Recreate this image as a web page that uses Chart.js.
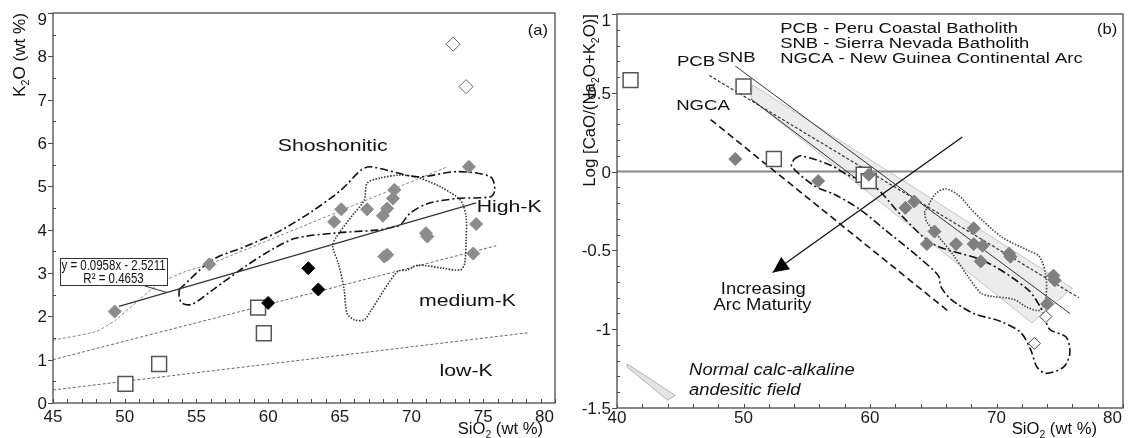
<!DOCTYPE html>
<html lang="en">
<head>
    <meta charset="UTF-8">
    <title>K2O and Log[CaO/(Na2O+K2O)] vs SiO2</title>
    <style>
        body {
            margin: 0;
            background-color: #fff;
        }
        .wrap {
            position: relative;
            width: 1135px;
            height: 438px;
        }
        #chartA {
            position: absolute;
            left: 0;
            top: 0;
        }
        #chartB {
            position: absolute;
            left: 567px;
            top: 0;
        }
    </style>
</head>
<body>
    <div class="wrap">
        <canvas id="chartA" width="567" height="438"></canvas>
        <canvas id="chartB" width="568" height="438"></canvas>
    </div>

    <script src="https://cdn.jsdelivr.net/npm/chart.js"></script>

    <script>
        // ---- panel (a): K2O vs SiO2 ----
        const grayDiamondsA = [[49.3,2.11],[55.9,3.2],[64.6,4.18],[65.1,4.47],[66.9,4.47],[68.0,4.32],[68.3,4.49],[68.7,4.72],
                               [68.8,4.92],[74.0,5.45],[74.5,4.13],[71.0,3.92],[71.1,3.84],[68.3,3.42],[68.1,3.38],[74.3,3.45]];
        const blackDiamondsA = [[60.0,2.31],[62.8,3.11],[63.5,2.62]];
        const openDiamondsA = [[72.9,8.28],[73.8,7.3]];
        const openSquaresA = [[50.05,0.44],[52.4,0.9],[59.3,2.2],[59.7,1.61]];
        const lowMediumK = [[45,0.3],[78.1,1.62]];
        const mediumHighK = [[45,1.0],[75.9,3.63]];
        const highKShosh = [[45,1.45],[48,1.65],[49.3,1.9],[51.0,2.38],[52.4,2.76],[54.2,3.03],[55.9,3.2],[72.5,5.45]];
        const regressionA = [[49.6,2.23],[74.5,4.62]];
        const leaderA = [[51.4,2.70],[52.95,2.55]];
        const dashDotA = [[53.8,2.62],[56.1,3.30],[58.4,3.61],[60.7,3.95],[63.0,4.41],[65.1,4.92],[66.5,5.38],[67.2,5.45],
                          [70.4,5.22],[73.2,5.34],[75.5,5.22],[75.8,4.92],[75.5,4.76],[73.2,4.72],[71.1,4.60],[69.9,4.38],
                          [69.2,4.11],[68.3,4.03],[67.6,3.99],[64.6,3.92],[61.9,3.8],[60.2,3.53],[58.4,3.15],[56.1,2.6],
                          [54.7,2.28],[54.0,2.3],[53.8,2.45],[53.8,2.62]];
        const dottedA = [[70.4,5.22],[72.0,4.99],[73.4,4.68],[73.8,4.3],[73.8,3.76],[73.7,3.22],[73.4,3.07],[72.2,3.11],
                         [70.4,3.18],[69.7,3.07],[69.0,3.03],[67.2,2.15],[66.7,1.92],[66.0,1.92],[65.5,2.07],[65.3,2.61],
                         [64.9,3.22],[64.5,3.61],[64.7,3.8],[65.8,4.3],[66.7,4.68],[66.9,5.07],[67.8,5.19],[69.2,5.26],[70.4,5.22]];
        const eqBoxA = [[45.5,3.35],[52.95,2.72]];

        // ---- panel (b): Log[CaO/(Na2O+K2O)] vs SiO2 ----
        const grayDiamondsB = [[49.35,0.08],[55.9,-0.06],[59.9,-0.02],[63.5,-0.19],[62.8,-0.23],[65.1,-0.38],[64.5,-0.46],
                               [66.8,-0.46],[68.2,-0.36],[68.2,-0.46],[68.9,-0.47],[68.75,-0.57],[71.0,-0.52],[71.1,-0.54],
                               [74.5,-0.66],[74.6,-0.69],[74.0,-0.84]];
        const openSquaresB = [[41.07,0.58],[50.0,0.54],[52.4,0.08],[59.5,-0.02],[59.9,-0.06]];
        const openDiamondsB = [[73.9,-0.92],[73.0,-1.09]];
        const pcbLine = [[47.3,0.61],[76.5,-0.80]];
        const snbLine = [[49.35,0.67],[75.8,-0.90]];
        const ngcaLine = [[47.4,0.33],[66.1,-0.88]];
        const fieldEdgeB = [[50.6,0.46],[59.5,-0.08]];
        const andesiteField = [[50.7,0.55],[76.0,-0.74],[72.8,-0.96],[50.6,0.46],[50.7,0.55]];
        const legendWedge = [[40.8,-1.22],[44.6,-1.42],[44.0,-1.45],[40.8,-1.24],[40.8,-1.22]];
        const zeroLine = [[40,0],[80,0]];
        const maturityArrow = [[67.3,0.22],[52.3,-0.64]];
        const dashDotB = [[54.0,0.08],[54.55,0.10],[56.9,0.04],[58.2,-0.02],[60.3,-0.09],[62.5,-0.28],[65.0,-0.46],
                          [69.1,-0.57],[72.5,-0.75],[73.6,-0.88],[74.2,-1.0],[75.5,-1.05],[75.8,-1.15],[75.3,-1.24],
                          [73.9,-1.28],[73.2,-1.24],[72.7,-1.13],[71.9,-1.02],[70.3,-0.95],[68.2,-0.90],[66.4,-0.81],
                          [65.6,-0.73],[65.4,-0.66],[63.8,-0.54],[61.2,-0.37],[59.2,-0.24],[57.2,-0.145],[55.6,-0.09],
                          [53.8,0.035],[54.0,0.08]];
        const dottedB = [[64.3,-0.26],[65.2,-0.14],[66.0,-0.11],[67.0,-0.15],[68.0,-0.24],[68.75,-0.30],[70.5,-0.42],
                         [72.5,-0.50],[73.4,-0.54],[73.9,-0.66],[73.9,-0.80],[73.4,-0.88],[72.4,-0.86],[71.35,-0.81],
                         [69.5,-0.79],[68.75,-0.77],[67.7,-0.66],[66.5,-0.52],[65.4,-0.41],[64.5,-0.32],[64.3,-0.26]];

        const FONT = '"Liberation Sans", Arial, sans-serif';

        function pts(arr) {
            return arr.map(p => ({ x: p[0], y: p[1] }));
        }

        function isMajor(v, step) {
            const r = v / step;
            return Math.abs(r - Math.round(r)) < 1e-6;
        }

        function fmt(v) {
            const r = Math.round(v * 10) / 10;
            return String(r === 0 ? 0 : r);
        }

        // draws text made of [string, isSubscript] parts
        function drawRich(ctx, parts, x, y, o) {
            const size = o.size, sx = o.sx || 1;
            const fontFor = sub => (o.italic ? 'italic ' : '') + (sub ? Math.round(size * 0.65) : size) + 'px ' + FONT;
            ctx.save();
            ctx.translate(x, y);
            if (o.rotate) ctx.rotate(o.rotate);
            ctx.scale(sx, 1);
            let total = 0;
            parts.forEach(p => { ctx.font = fontFor(p[1]); total += ctx.measureText(p[0]).width; });
            let cx = o.align === 'left' ? 0 : o.align === 'right' ? -total : -total / 2;
            ctx.textAlign = 'left';
            ctx.textBaseline = 'middle';
            ctx.fillStyle = o.color || '#111';
            parts.forEach(p => {
                ctx.font = fontFor(p[1]);
                ctx.fillText(p[0], cx, p[1] ? size * 0.3 : 0);
                cx += ctx.measureText(p[0]).width;
            });
            ctx.restore();
        }

        function lineSet(data, color, width, dash, extra) {
            return Object.assign({
                data: pts(data), showLine: true, borderColor: color, borderWidth: width,
                borderDash: dash || [], pointRadius: 0, fill: false, tension: 0
            }, extra || {});
        }

        function markSet(data, style, radius, fillColor, border, bw) {
            return {
                data: pts(data), showLine: false, pointStyle: style, pointRadius: radius,
                backgroundColor: fillColor, borderColor: border, borderWidth: bw,
                pointBackgroundColor: fillColor, pointBorderColor: border, pointBorderWidth: bw
            };
        }

        // frame, ticks, tick labels, axis titles and notes
        function decor(cfg) {
            return {
                id: 'decor',
                afterDatasetsDraw(chart) {
                    const { ctx, chartArea: a, scales: { x, y } } = chart;
                    if (cfg.extra) cfg.extra(chart);
                    ctx.save();
                    ctx.strokeStyle = '#4a4a4a';
                    ctx.lineWidth = 1.3;
                    ctx.strokeRect(a.left, a.top, a.right - a.left, a.bottom - a.top);
                    ctx.lineWidth = 1;
                    ctx.beginPath();
                    x.ticks.forEach(t => {
                        const px = Math.round(x.getPixelForValue(t.value)) + 0.5;
                        ctx.moveTo(px, a.bottom);
                        ctx.lineTo(px, a.bottom - 4);
                    });
                    y.ticks.forEach(t => {
                        const py = Math.round(y.getPixelForValue(t.value)) + 0.5;
                        if (isMajor(t.value, cfg.yMajor)) {
                            ctx.moveTo(a.left - 5, py);
                            ctx.lineTo(a.left, py);
                        } else {
                            ctx.moveTo(a.left, py);
                            ctx.lineTo(a.left + 3, py);
                        }
                    });
                    ctx.stroke();

                    ctx.fillStyle = '#1a1a1a';
                    ctx.font = '17px ' + FONT;
                    ctx.textBaseline = 'alphabetic';
                    x.ticks.forEach(t => {
                        if (!isMajor(t.value, cfg.xMajor)) return;
                        let px = x.getPixelForValue(t.value);
                        if (Math.abs(t.value - x.max) < 1e-6) {
                            ctx.textAlign = 'right';
                            px -= 1;
                        } else {
                            ctx.textAlign = 'center';
                        }
                        ctx.fillText(fmt(t.value), px, a.bottom + cfg.xLabelDy);
                    });
                    ctx.textAlign = 'right';
                    y.ticks.forEach(t => {
                        if (!isMajor(t.value, cfg.yMajor)) return;
                        const py = Math.max(y.getPixelForValue(t.value), a.top + 6);
                        ctx.fillText(fmt(t.value), a.left - 6, py + 6);
                    });
                    ctx.restore();

                    drawRich(ctx, cfg.yTitle, cfg.yTitleX, a.top, { size: 16, sx: cfg.yTitleSx, align: 'right', rotate: -Math.PI / 2 });
                    drawRich(ctx, cfg.xTitle, a.right - cfg.xTitleInset, a.bottom + cfg.xTitleDy, { size: 16, sx: 1.04, align: 'right' });

                    cfg.notes.forEach(n => {
                        drawRich(ctx, [[n.text]], x.getPixelForValue(n.x), y.getPixelForValue(n.y),
                            { size: n.size, sx: n.sx, align: n.align || 'center', italic: n.italic });
                    });
                }
            };
        }

        function panelOptions(xr, yr, pad, yWidth, xHeight) {
            return {
                responsive: false,
                animation: false,
                events: [],
                layout: { padding: pad },
                plugins: { legend: { display: false }, tooltip: { enabled: false } },
                scales: {
                    x: {
                        type: 'linear', min: xr[0], max: xr[1],
                        ticks: { display: false, stepSize: xr[2], autoSkip: false },
                        grid: { display: false }, border: { display: false },
                        afterFit(s) { s.height = xHeight; s.paddingLeft = 0; s.paddingRight = 0; }
                    },
                    y: {
                        type: 'linear', min: yr[0], max: yr[1],
                        ticks: { display: false, stepSize: yr[2], autoSkip: false },
                        grid: { display: false }, border: { display: false },
                        afterFit(s) { s.width = yWidth; s.paddingTop = 0; s.paddingBottom = 0; }
                    }
                }
            };
        }

        const notesA = [
            { text: 'Shoshonitic', x: 64.5, y: 5.93, size: 17, sx: 1.25 },
            { text: 'High-K', x: 76.8, y: 4.52, size: 17, sx: 1.25 },
            { text: 'medium-K', x: 73.9, y: 2.35, size: 17, sx: 1.25 },
            { text: 'low-K', x: 73.8, y: 0.72, size: 17, sx: 1.25 },
            { text: '(a)', x: 78.8, y: 8.58, size: 15, sx: 1.1 },
            { text: 'y = 0.0958x - 2.5211', x: 49.22, y: 3.16, size: 14, sx: 0.82 },
            { text: 'R² = 0.4653', x: 49.22, y: 2.86, size: 14, sx: 0.82 }
        ];

        const notesB = [
            { text: 'PCB - Peru Coastal Batholith', x: 52.9, y: 0.905, size: 15.5, sx: 1.19, align: 'left' },
            { text: 'SNB - Sierra Nevada Batholith', x: 52.9, y: 0.812, size: 15.5, sx: 1.19, align: 'left' },
            { text: 'NGCA - New Guinea Continental Arc', x: 52.9, y: 0.714, size: 15.5, sx: 1.19, align: 'left' },
            { text: '(b)', x: 78.75, y: 0.898, size: 15, sx: 1.1 },
            { text: 'PCB', x: 46.25, y: 0.70, size: 15.5, sx: 1.2 },
            { text: 'SNB', x: 49.45, y: 0.72, size: 15.5, sx: 1.2 },
            { text: 'NGCA', x: 46.8, y: 0.415, size: 15.5, sx: 1.2 },
            { text: 'Increasing', x: 51.56, y: -0.75, size: 16, sx: 1.15 },
            { text: 'Arc Maturity', x: 51.5, y: -0.853, size: 16, sx: 1.15 },
            { text: 'Normal calc-alkaline', x: 45.7, y: -1.265, size: 16, sx: 1.15, align: 'left', italic: true },
            { text: 'andesitic field', x: 45.7, y: -1.39, size: 16, sx: 1.15, align: 'left', italic: true }
        ];

        const chartA = new Chart(document.getElementById('chartA'), {
            type: 'scatter',
            data: {
                datasets: [
                    markSet(openDiamondsA, 'rectRot', 7, '#fff', '#666', 1),
                    markSet(blackDiamondsA, 'rectRot', 6.5, '#000', '#000', 1),
                    markSet(grayDiamondsA, 'rectRot', 6.5, '#8c8c8c', '#8c8c8c', 1),
                    markSet(openSquaresA, 'rect', 10.5, '#fff', '#555', 1.5),
                    lineSet(regressionA, '#333', 1.2),
                    lineSet(leaderA, '#333', 1),
                    lineSet(dashDotA, '#111', 1.6, [8, 3, 2, 3], { tension: 0.3 }),
                    lineSet(dottedA, '#333', 1.6, [1.5, 1.5], { tension: 0.3 }),
                    lineSet(highKShosh, '#888', 1, [3, 2], { tension: 0.2 }),
                    lineSet(mediumHighK, '#666', 1, [3, 2]),
                    lineSet(lowMediumK, '#666', 1, [3, 2])
                ]
            },
            options: panelOptions([45, 80, 1], [0, 9, 0.5], { left: 0, top: 13, right: 8, bottom: 0 }, 53, 35),
            plugins: [decor({
                xMajor: 5, yMajor: 1, xLabelDy: 19,
                yTitle: [['K'], ['2', 1], ['O (wt %)']], yTitleX: 21, yTitleSx: 1.07,
                xTitle: [['SiO'], ['2', 1], [' (wt %)']], xTitleInset: 12, xTitleDy: 27,
                notes: notesA,
                extra(chart) {
                    const { ctx, scales: { x, y } } = chart;
                    const x0 = x.getPixelForValue(eqBoxA[0][0]), y0 = y.getPixelForValue(eqBoxA[0][1]);
                    const x1 = x.getPixelForValue(eqBoxA[1][0]), y1 = y.getPixelForValue(eqBoxA[1][1]);
                    ctx.save();
                    ctx.fillStyle = '#fff';
                    ctx.strokeStyle = '#333';
                    ctx.lineWidth = 1;
                    ctx.fillRect(x0, y0, x1 - x0, y1 - y0);
                    ctx.strokeRect(Math.round(x0) + 0.5, Math.round(y0) + 0.5, Math.round(x1 - x0), Math.round(y1 - y0));
                    ctx.restore();
                }
            })]
        });

        const chartB = new Chart(document.getElementById('chartB'), {
            type: 'scatter',
            data: {
                datasets: [
                    markSet(openDiamondsB, 'rectRot', 6, '#fff', '#444', 1),
                    markSet(grayDiamondsB, 'rectRot', 6.5, '#7f7f7f', '#7f7f7f', 1),
                    markSet(openSquaresB, 'rect', 10.5, '#fff', '#555', 1.5),
                    lineSet(maturityArrow, '#111', 1.3),
                    lineSet(pcbLine, '#333', 1.2, [3, 2]),
                    lineSet(snbLine, '#333', 1),
                    lineSet(fieldEdgeB, '#333', 1),
                    lineSet(ngcaLine, '#111', 1.6, [7, 4]),
                    lineSet(dashDotB, '#111', 1.6, [8, 3, 2, 3], { tension: 0.3 }),
                    lineSet(dottedB, '#444', 1.6, [1.5, 1.5], { tension: 0.3 }),
                    lineSet(zeroLine, '#888', 2),
                    lineSet(andesiteField, '#c4c4c4', 1, [], { fill: 'shape', backgroundColor: '#ececec' }),
                    lineSet(legendWedge, '#b0b0b0', 1, [], { fill: 'shape', backgroundColor: '#e4e4e4' })
                ]
            },
            options: panelOptions([40, 80, 2], [-1.5, 1, 0.1], { left: 0, top: 14, right: 6, bottom: 0 }, 50, 30),
            plugins: [decor({
                xMajor: 10, yMajor: 0.5, xLabelDy: 15,
                yTitle: [['Log [CaO/(Na'], ['2', 1], ['O+K'], ['2', 1], ['O)]']], yTitleX: 24, yTitleSx: 1.05,
                xTitle: [['SiO'], ['2', 1], [' (wt %)']], xTitleInset: 26, xTitleDy: 22,
                notes: notesB,
                extra(chart) {
                    const { ctx, scales: { x, y } } = chart;
                    const p = maturityArrow[maturityArrow.length - 2], q = maturityArrow[maturityArrow.length - 1];
                    const x0 = x.getPixelForValue(p[0]), y0 = y.getPixelForValue(p[1]);
                    const x1 = x.getPixelForValue(q[0]), y1 = y.getPixelForValue(q[1]);
                    ctx.save();
                    ctx.translate(x1, y1);
                    ctx.rotate(Math.atan2(y1 - y0, x1 - x0));
                    ctx.beginPath();
                    ctx.moveTo(0, 0);
                    ctx.lineTo(-16, -7.5);
                    ctx.lineTo(-16, 7.5);
                    ctx.closePath();
                    ctx.fillStyle = '#000';
                    ctx.fill();
                    ctx.restore();
                }
            })]
        });
    </script>
</body>
</html>
